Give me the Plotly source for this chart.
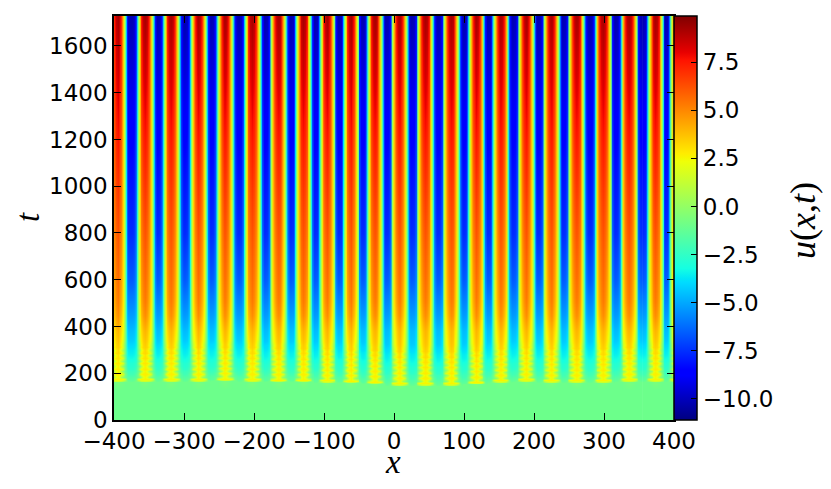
import plotly.graph_objects as go

# crest positions along x (left to right), with their wrap-around neighbours
crests = [-428, -396, -357, -320, -281, -243, -204, -167, -131, -97, -63, -29, 6, 43,
          80, 116, 151, 187, 223, 259, 297, 334, 372, 404, 443]
# shift in t of the onset beads for each crest
onset_shift = [4, 4, 4, 4, 4, 6, 4, 2, 2, 0, -2, -6, -13, -13, -13, -8, 0, 4, 0, 0, 0, 4, 4, 4, 4]

# half a period, in fourteenths of the crest spacing
phase_steps = [0, 1, 2, 3, 4, 5, 6, 7]
t_rows = [0, 130, 162, 166, 172, 183, 195, 206, 218, 229, 240, 252, 263, 275, 286, 297, 309, 320,
          340, 380, 450, 510, 600, 800, 1100, 1400, 1728]
profile = [
    [-1.0, -1.0, -1.0, -1.0, -1.0, -1.0, -1.0, -1.0],
    [-1.0, -1.0, -1.0, -1.0, -1.0, -1.0, -1.0, -1.0],
    [-0.6, -0.7, -0.8, -0.9, -1.0, -1.0, -1.0, -1.0],
    [1.5, 1.4, 1.2, 0.6, -0.2, -0.8, -1.1, -1.2],
    [2.6, 2.6, 2.5, 2.3, 1.4, -1.0, -1.4, -1.5],
    [2.5, 2.0, 0.6, -0.3, -0.9, -1.5, -1.6, -1.7],
    [2.7, 2.7, 2.4, 1.6, -0.7, -1.6, -2.0, -2.1],
    [2.6, 2.1, 0.7, -0.3, -1.2, -2.0, -2.2, -2.3],
    [2.8, 2.7, 2.4, 1.6, -0.8, -2.1, -2.5, -2.6],
    [2.7, 2.2, 0.8, -0.3, -1.3, -2.4, -2.7, -2.8],
    [2.9, 2.8, 2.4, 1.5, -0.8, -2.5, -2.8, -2.9],
    [2.8, 2.3, 1.0, -0.1, -1.3, -2.7, -3.0, -3.1],
    [3.0, 2.9, 2.4, 1.5, -0.8, -2.9, -3.2, -3.3],
    [3.0, 2.5, 1.4, 0.2, -1.3, -3.1, -3.4, -3.5],
    [3.2, 3.0, 2.5, 1.4, -0.9, -3.2, -3.5, -3.6],
    [3.2, 2.8, 1.8, 0.5, -1.0, -3.3, -3.6, -3.7],
    [3.4, 3.2, 2.6, 1.4, -0.9, -3.4, -3.8, -3.9],
    [3.5, 3.2, 2.4, 1.2, -0.9, -3.5, -3.9, -4.0],
    [3.7, 3.4, 2.7, 1.7, -0.6, -3.6, -4.2, -4.3],
    [4.0, 3.7, 3.0, 2.1, -0.5, -3.9, -4.5, -4.6],
    [4.9, 4.5, 3.7, 2.5, -0.4, -4.6, -5.2, -5.3],
    [5.3, 4.9, 4.1, 2.8, -0.3, -5.0, -5.7, -5.8],
    [5.6, 5.2, 4.4, 2.9, -0.4, -5.5, -6.4, -6.6],
    [6.2, 5.8, 5.0, 3.1, -0.5, -6.2, -7.4, -7.6],
    [7.2, 6.8, 5.7, 3.3, -0.7, -6.8, -8.1, -8.3],
    [8.2, 7.7, 6.5, 3.4, -0.9, -7.4, -8.9, -9.1],
    [9.2, 8.8, 7.2, 3.6, -1.1, -8.0, -9.9, -10.2],
]

x_ticks = [-400, -300, -200, -100, 0, 100, 200, 300, 400]
t_ticks = [0, 200, 400, 600, 800, 1000, 1200, 1400, 1600]
cb_ticks = [-10, -7.5, -5, -2.5, 0, 2.5, 5, 7.5]
z_min, z_max = -11.1, 9.9
t_max = 1728

jet = [[0, "rgb(0,0,128)"], [0.11, "rgb(0,0,255)"], [0.125, "rgb(0,0,255)"], [0.34, "rgb(0,219,255)"],
       [0.35, "rgb(0,230,247)"], [0.375, "rgb(21,255,226)"], [0.64, "rgb(239,255,8)"],
       [0.65, "rgb(247,246,0)"], [0.66, "rgb(255,236,0)"], [0.89, "rgb(255,19,0)"],
       [0.91, "rgb(232,0,0)"], [1, "rgb(128,0,0)"]]

fig = go.Figure()
for i in range(1, len(crests) - 1):
    c = crests[i]
    step = (crests[i + 1] - crests[i - 1]) / 2 / 14
    offsets = [-p for p in reversed(phase_steps[1:])] + phase_steps
    # plotly paints each z value from the left bound of its brick, so centre it half a step on
    xs = [c + (s + 0.5) * step for s in offsets]
    ys = [t + onset_shift[i] - 2 if 130 < t < 345 else t for t in t_rows]
    zs = [list(reversed(row[1:])) + row for row in profile]
    fig.add_trace(go.Heatmap(x=xs, y=ys, z=zs, coloraxis="coloraxis", zsmooth="best", hoverinfo="skip"))

axis_font = dict(family="DejaVu Sans", size=23, color="black")
common = dict(showgrid=False, zeroline=False, showline=True, linecolor="black", linewidth=1.5,
              mirror="ticks", ticks="inside", ticklen=7, tickwidth=1, tickcolor="black", tickfont=axis_font)


def label(text, px, py, size=33, angle=0):
    return dict(text=text, textangle=angle, showarrow=False, xref="paper", yref="paper",
                x=(px - 114) / 560, y=(420 - py) / 406, xanchor="center", yanchor="middle",
                font=dict(family="Liberation Serif", size=size, color="black"))


fig.update_layout(
    width=823, height=481, autosize=False,
    margin=dict(l=106, r=157, t=6, b=69, pad=0),
    paper_bgcolor="white", plot_bgcolor="white", showlegend=False,
    xaxis=dict(range=[-400, 400], tickvals=x_ticks, **common),
    yaxis=dict(range=[0, t_max], tickvals=t_ticks, **common),
    coloraxis=dict(
        colorscale=jet, cmin=z_min, cmax=z_max,
        colorbar=dict(thickness=23, thicknessmode="pixels", len=1, lenmode="fraction", x=1.0, xanchor="left",
                      y=0, yanchor="bottom", xpad=0, ypad=0, outlinecolor="black", outlinewidth=1.5,
                      ticks="inside", ticklen=6, tickwidth=1, tickcolor="black", tickvals=cb_ticks,
                      tickformat=".1f", tickfont=axis_font),
    ),
    annotations=[
        label("<i>x</i>", 393, 462),
        label("<i>t</i>", 28, 216, angle=-90),
        label("<i>u</i>(<i>x</i>,<i>t</i>)", 803, 220, size=36, angle=-90),
    ],
)
fig.write_html("out.html")
